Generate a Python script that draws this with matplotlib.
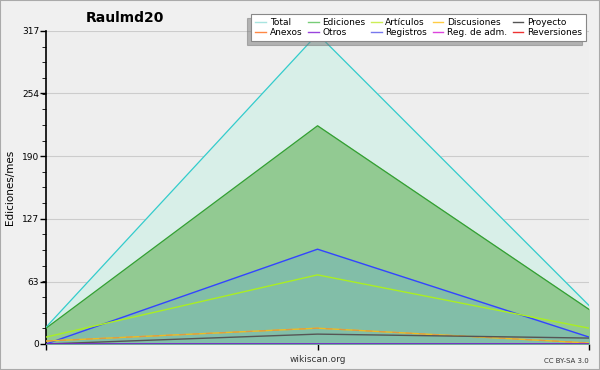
import matplotlib
matplotlib.use("Agg")
import matplotlib.pyplot as plt
from matplotlib.lines import Line2D
from matplotlib.patches import Rectangle

# data
x = [0, 1, 2]
total = [17, 314, 39]
ediciones = [16, 221, 35]
azul = [0, 96, 7]
articulos = [7, 70, 16]
discusiones = [3, 16, 1]
proyecto = [0, 10, 6]
otros = [0, 0, 0]

yticks = [0, 63, 127, 190, 254, 317]
legend_names = ['Total', 'Ediciones', 'Artículos', 'Discusiones', 'Proyecto',
                'Anexos', 'Otros', 'Registros', 'Reg. de adm.', 'Reversiones']
legend_colors = ['#a8e4e0', '#77cc77', '#ccee55', '#ffcc44', '#555555',
                 '#ff8844', '#9944dd', '#7777ee', '#dd44dd', '#ee3333']

plt.rcParams['font.family'] = 'DejaVu Sans'
fig = plt.figure(figsize=(6, 3.7), dpi=100, facecolor='#f0f0f0')
fig.patches.append(Rectangle((0, 0), 1, 1, transform=fig.transFigure, fill=False,
                             edgecolor='#aaaaaa', linewidth=1.5))
ax = fig.add_axes([0.0767, 0.0703, 0.905, 0.846])
ax.set_facecolor('#eeeeee')

# filled areas
ax.fill_between(x, total, color='#d8efe8', zorder=1)
ax.plot(x, total, color='#33cccc', lw=0.9, zorder=5)
ax.fill_between(x, ediciones, color='#92ca92', zorder=2)
ax.plot(x, ediciones, color='#33a033', lw=0.9, zorder=5)
ax.fill_between(x, azul, color='#7fbcae', alpha=0.8, zorder=3)
ax.plot(x, azul, color='#3344ff', lw=1.0, zorder=6)
ax.plot(x, articulos, color='#aaee22', lw=1.0, zorder=6)
ax.plot(x, discusiones, color='#eebb22', lw=1.0, zorder=6)
ax.plot(x, discusiones, color='#dd9944', lw=0.8, ls=(0, (6, 6)), zorder=6)
ax.plot(x, proyecto, color='#555555', lw=1.0, zorder=6)
ax.plot(x, otros, color='#7722cc', lw=1.2, zorder=6)

ax.set_xlim(0, 2)
ax.set_ylim(0, 317)
ax.set_yticks(yticks)
ax.set_yticks([317 / 20 * i for i in range(21)], minor=True)
ax.set_xticks(x)
ax.set_xticklabels([])
ax.tick_params(axis='y', labelsize=6.5, colors='black', length=4, width=1, pad=1)
ax.tick_params(axis='y', which='minor', length=3)
ax.tick_params(axis='x', length=4, width=1)
ax.grid(axis='y', color='#cccccc', lw=0.8, zorder=0)
ax.set_axisbelow(True)
for s in ['top', 'right']:
    ax.spines[s].set_visible(False)
ax.spines['left'].set_linewidth(1.2)
ax.spines['bottom'].set_linewidth(1.2)
ax.set_ylabel('Ediciones/mes', fontsize=7.5, labelpad=5)

fig.text(0.208, 0.951, 'Raulmd20', fontsize=10, fontweight='bold', ha='center', va='center')
fig.text(0.53, 0.028, 'wikiscan.org', fontsize=6.5, ha='center', va='center', color='#333333')
fig.text(0.982, 0.025, 'CC BY-SA 3.0', fontsize=5, ha='right', va='center', color='#333333')

handles = [Line2D([0], [0], color=c, lw=1) for c in legend_colors]
order = [0, 5, 1, 6, 2, 7, 3, 8, 4, 9]
leg = fig.legend([handles[i] for i in order], [legend_names[i] for i in order],
                 ncol=5, loc='upper right', bbox_to_anchor=(0.985, 0.975),
                 fontsize=6.5, frameon=True, fancybox=False,
                 shadow={'ox': -3, 'oy': -3, 'color': '#777777'},
                 handlelength=1.2, handletextpad=0.4, columnspacing=0.6,
                 labelspacing=0.05, borderpad=0.5)
leg.get_frame().set_edgecolor('#888888')
leg.get_frame().set_linewidth(0.8)

fig.savefig('out.png', dpi=100, facecolor=fig.get_facecolor())
